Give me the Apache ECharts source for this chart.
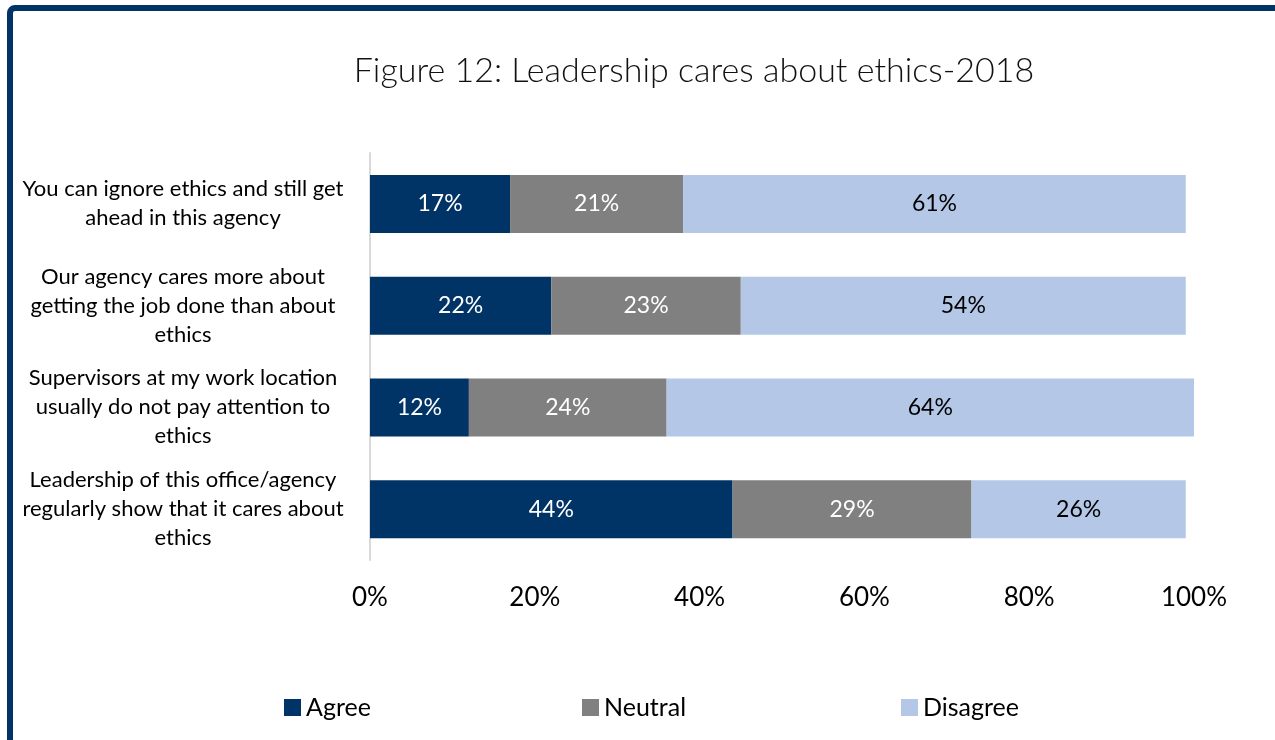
<!DOCTYPE html>
<html>
<head>
<meta charset="utf-8">
<script src="https://cdn.jsdelivr.net/npm/echarts@6/dist/echarts.min.js"></script>
<style>
  html, body { margin: 0; padding: 0; background: #fff; }
  #chart { width: 1275px; height: 740px; }
</style>
</head>
<body>
<div id="chart"></div>
<script>
// Survey statements, top to bottom
const statements = [
  'You can ignore ethics and still get\nahead in this agency',
  'Our agency cares more about\ngetting the job done than about\nethics',
  'Supervisors at my work location\nusually do not pay attention to\nethics',
  'Leadership of this office/agency\nregularly show that it cares about\nethics'
];
// Share of responses (%)
const agree    = [17, 22, 12, 44];
const neutral  = [21, 23, 24, 29];
const disagree = [61, 54, 64, 26];
const seriesNames = ['Agree', 'Neutral', 'Disagree'];
const percentTicks = [0, 20, 40, 60, 80, 100];

const FONT = 'Lato';
const colors = { Agree: '#003366', Neutral: '#808080', Disagree: '#B4C7E7' };

function barSeries(name, values, labelColor) {
  return {
    name: name,
    type: 'bar',
    stack: 'total',
    barWidth: 58,
    data: values,
    itemStyle: { color: colors[name] },
    label: {
      show: true,
      position: 'inside',
      formatter: p => p.value + '%',
      color: labelColor,
      fontFamily: FONT,
      fontSize: 23
    }
  };
}

const chart = echarts.init(document.getElementById('chart'), null, { renderer: 'canvas' });

chart.setOption({
  backgroundColor: '#ffffff',
  animation: false,
  title: {
    text: 'Figure 12: Leadership cares about ethics-2018',
    left: 689,
    top: 49,
    textAlign: 'center',
    textStyle: { fontFamily: FONT, fontSize: 34, fontWeight: 300, color: '#111111' }
  },
  graphic: [{
    type: 'rect',
    shape: { x: 10, y: 8, width: 1400, height: 900, r: 5 },
    style: { fill: 'none', stroke: '#003366', lineWidth: 6 },
    silent: true
  }],
  legend: seriesNames.map((n, i) => ({
    data: [n],
    left: [279, 577, 896][i],
    top: 690,
    icon: 'rect',
    itemWidth: 17,
    itemHeight: 17,
    itemGap: 0,
    textStyle: { fontFamily: FONT, fontSize: 25, color: '#000' },
    selectedMode: false
  })),
  grid: { left: 370, right: 81, top: 153, bottom: 180, containLabel: false },
  xAxis: {
    type: 'value',
    min: 0,
    max: 100,
    interval: 20,
    axisLine: { show: false },
    axisTick: { show: false },
    splitLine: { show: false },
    axisLabel: {
      margin: 25,
      formatter: v => percentTicks.includes(v) ? v + '%' : '',
      fontFamily: FONT,
      fontSize: 26,
      color: '#000'
    }
  },
  yAxis: {
    type: 'category',
    inverse: true,
    data: statements,
    axisLine: { show: true, lineStyle: { color: '#d9d9d9', width: 2 } },
    axisTick: { show: false },
    axisLabel: {
      margin: 187,
      align: 'center',
      fontFamily: FONT,
      fontSize: 22,
      lineHeight: 29,
      color: '#000'
    }
  },
  series: [
    barSeries('Agree', agree, '#ffffff'),
    barSeries('Neutral', neutral, '#ffffff'),
    barSeries('Disagree', disagree, '#000000')
  ]
});
</script>
</body>
</html>
